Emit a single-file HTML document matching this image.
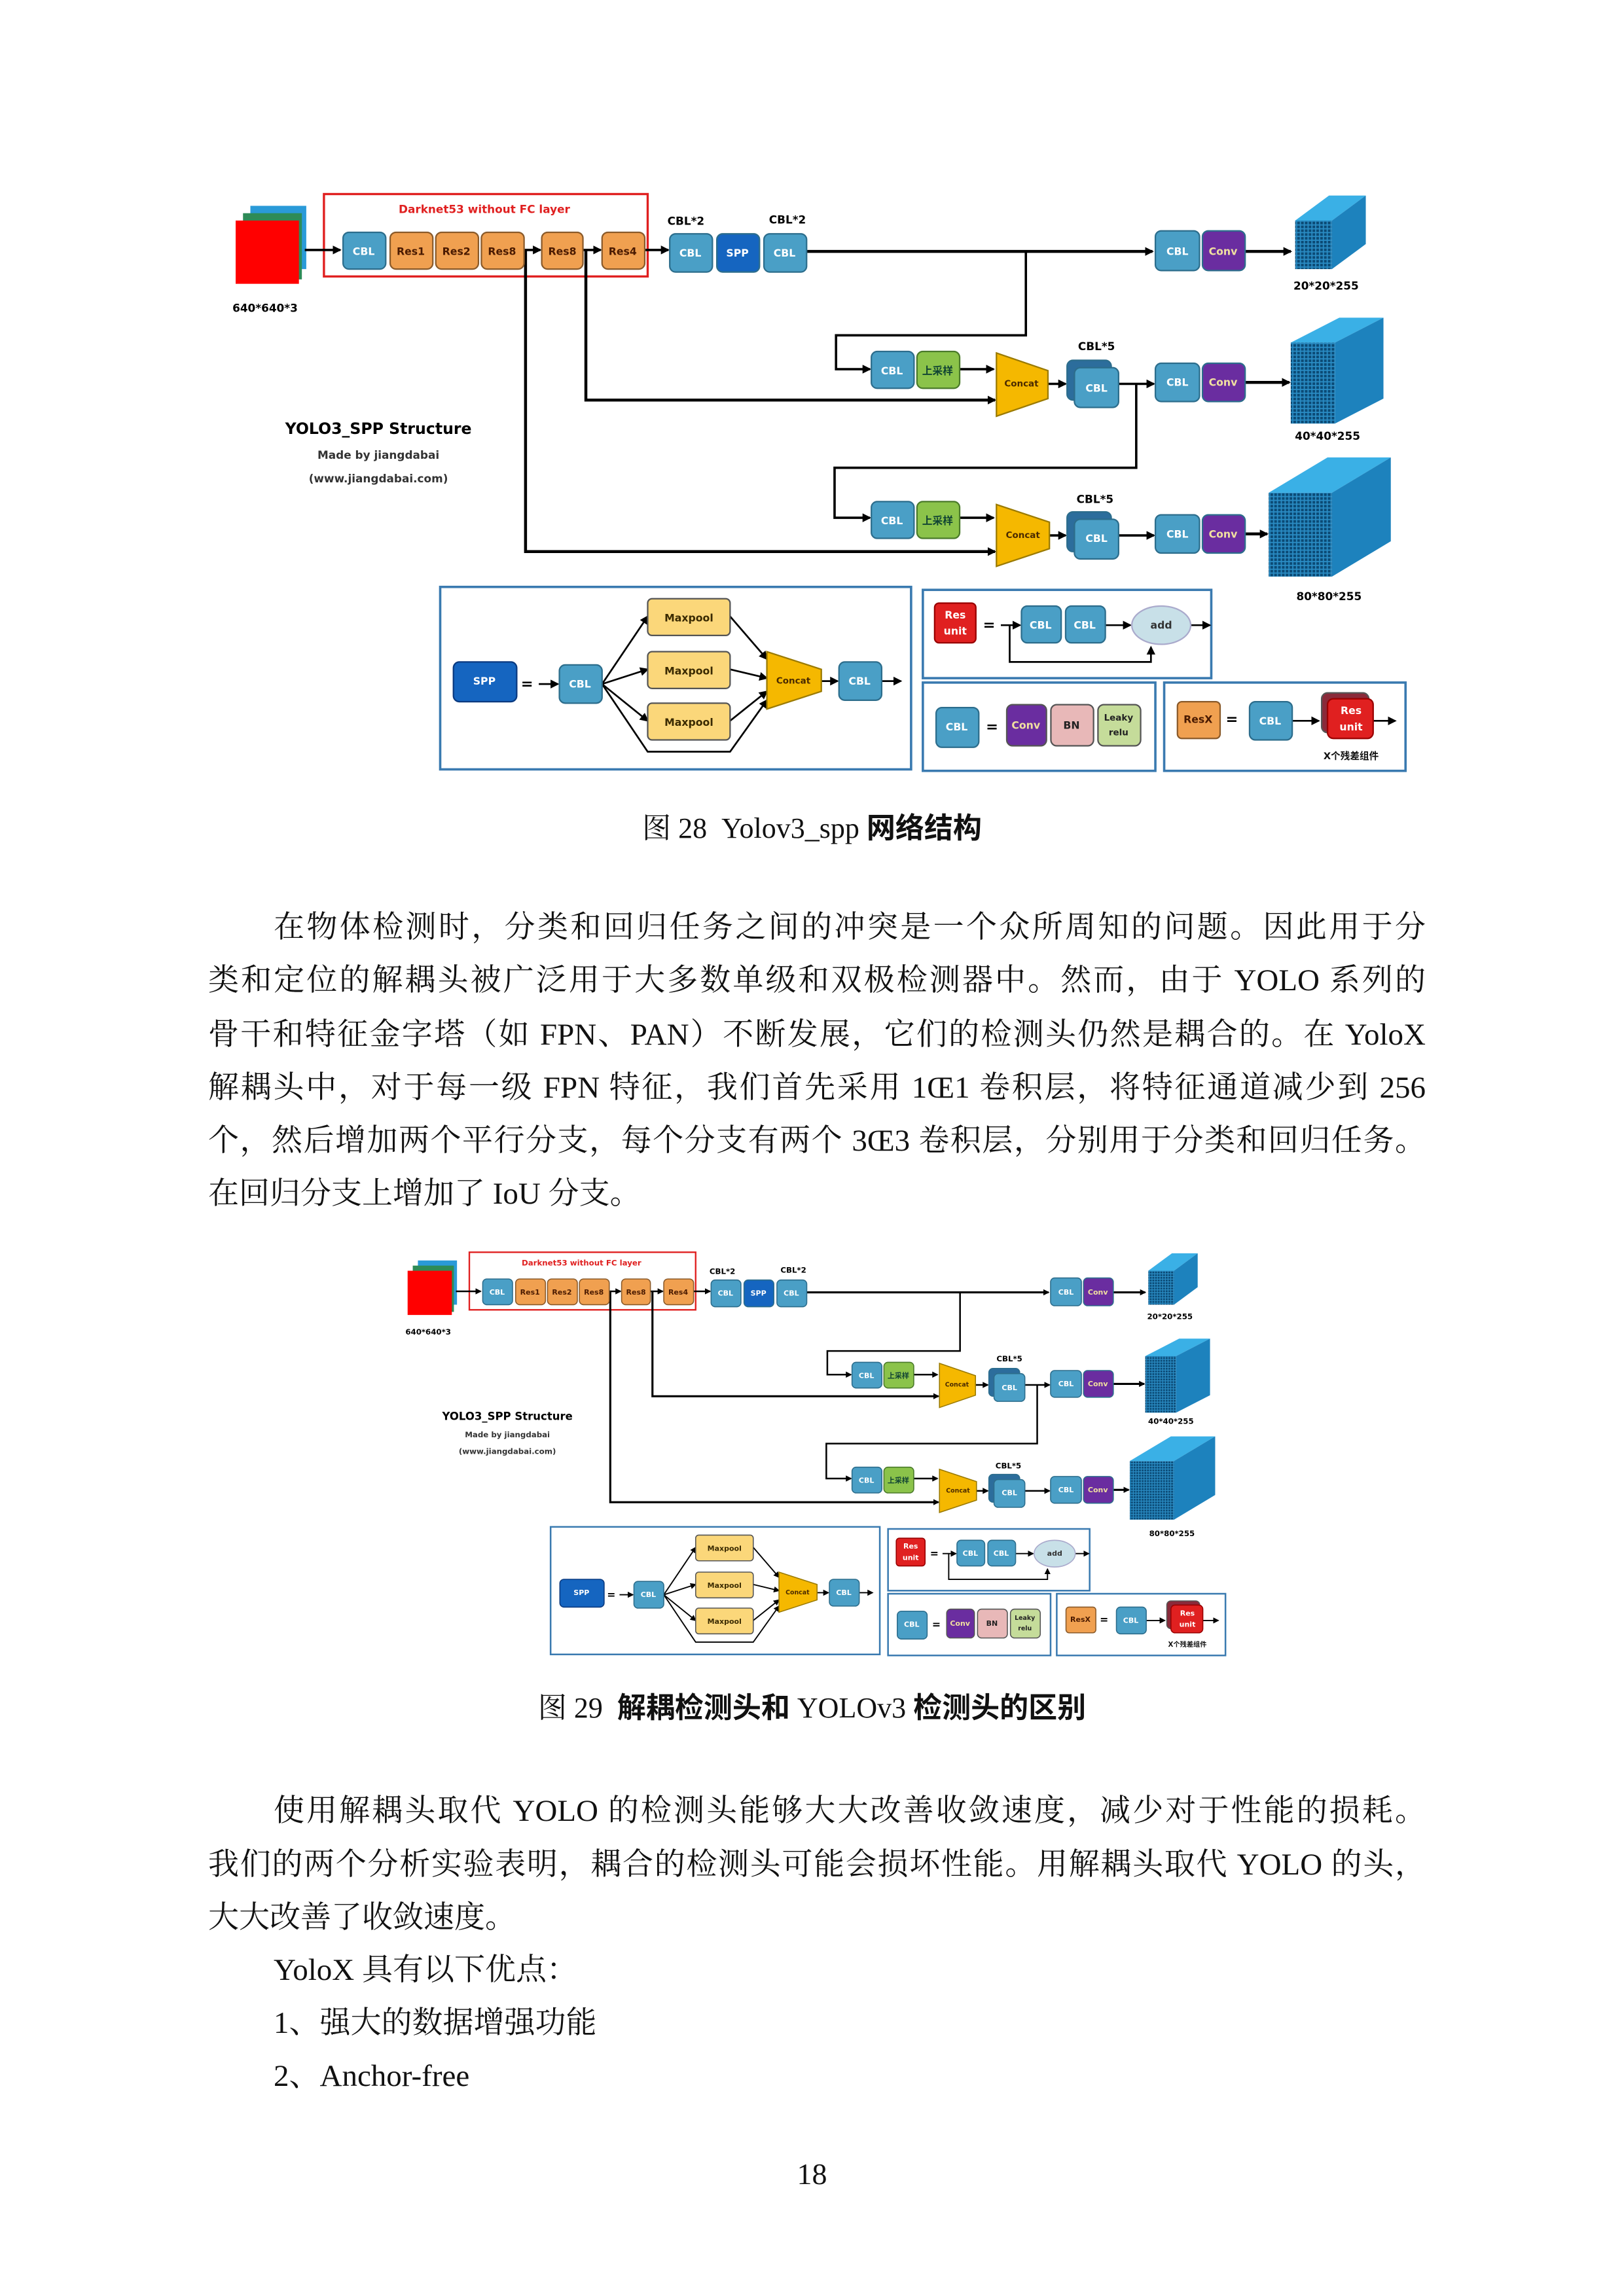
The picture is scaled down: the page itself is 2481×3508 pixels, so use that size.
<!DOCTYPE html>
<html><head><meta charset="utf-8">
<style>
html,body{margin:0;padding:0;background:#fff;}
body{width:2481px;height:3508px;position:relative;overflow:hidden;}
.l{position:absolute;font-family:"Liberation Serif","Noto Serif CJK SC",serif;font-size:47px;line-height:60px;white-space:nowrap;color:#111;}
.j{text-align:justify;text-align-last:justify;width:1860px;left:318px;white-space:normal;}
.ji{text-align:justify;text-align-last:justify;width:1760px;left:418px;white-space:normal;}
.cap{position:absolute;left:0;width:2481px;text-align:center;font-family:"Liberation Serif","Noto Serif CJK SC",serif;font-size:44px;line-height:56px;color:#111;}
.cap b{font-family:"Liberation Sans","Noto Sans CJK SC",sans-serif;}
svg text{font-family:"DejaVu Sans","Liberation Sans","Noto Sans CJK SC",sans-serif;font-weight:bold;}
</style></head><body>

<svg style="position:absolute;left:337px;top:292px" width="1822" height="888" viewBox="150 130 810 395">
<defs>
<marker id="ar" markerWidth="6" markerHeight="6" refX="5" refY="3" orient="auto" markerUnits="userSpaceOnUse"><path d="M0,0 L6,3 L0,6 z" fill="#000"/></marker>
<pattern id="grid" width="2.6" height="2.6" patternUnits="userSpaceOnUse"><rect width="2.6" height="2.6" fill="#2a8cc4"/><rect width="1.8" height="1.8" fill="#0b4a75"/></pattern>
</defs>
<g id="fig">
<rect x="170" y="140" width="38" height="43" fill="#2a9ad8"/>
<rect x="165" y="145" width="40" height="45" fill="#2e8b57"/>
<rect x="160" y="150" width="43" height="43" fill="#ff0000"/>
<text x="180" y="212" font-size="7.5" text-anchor="middle">640*640*3</text>
<rect x="220" y="132" width="220" height="56" fill="none" stroke="#e02020" stroke-width="1.5"/>
<text x="329" y="145" font-size="7.5" fill="#e02020" text-anchor="middle">Darknet53 without FC layer</text>
<g stroke="#000" stroke-width="1.6" fill="none">
<line x1="207" y1="170" x2="231" y2="170" marker-end="url(#ar)"/>
<line x1="356" y1="170" x2="367" y2="170" marker-end="url(#ar)"/>
<line x1="396" y1="170" x2="408" y2="170" marker-end="url(#ar)"/>
<line x1="438" y1="170" x2="454" y2="170" marker-end="url(#ar)"/>
<line x1="548" y1="171" x2="783" y2="171" marker-end="url(#ar)" stroke-width="2"/>
<line x1="846" y1="171" x2="877" y2="171" marker-end="url(#ar)" stroke-width="2"/>
<polyline points="697,171 697,228 568,228 568,251 591,251" marker-end="url(#ar)"/>
<polyline points="398,170 398,272 676,272" marker-end="url(#ar)" stroke-width="2"/>
<polyline points="357,170 357,375 676,375" marker-end="url(#ar)" stroke-width="2"/>
<line x1="652" y1="251" x2="675" y2="251" marker-end="url(#ar)"/>
<line x1="712" y1="261" x2="724" y2="261" marker-end="url(#ar)"/>
<line x1="760" y1="261" x2="784" y2="261" marker-end="url(#ar)"/>
<line x1="846" y1="260" x2="876" y2="260" marker-end="url(#ar)" stroke-width="2"/>
<polyline points="772,261 772,318 567,318 567,352 591,352" marker-end="url(#ar)"/>
<line x1="652" y1="352" x2="675" y2="352" marker-end="url(#ar)"/>
<line x1="713" y1="364" x2="724" y2="364" marker-end="url(#ar)"/>
<line x1="760" y1="364" x2="784" y2="364" marker-end="url(#ar)"/>
<line x1="846" y1="363" x2="861" y2="363" marker-end="url(#ar)" stroke-width="2"/>
</g>
<g stroke="#2c6d8c" stroke-width="1">
<rect x="233" y="158" width="29" height="25" rx="4" fill="#4a9fc6"/>
<rect x="265" y="158" width="29" height="25" rx="4" fill="#f0a050" stroke="#8a5a2a"/>
<rect x="296" y="158" width="29" height="25" rx="4" fill="#f0a050" stroke="#8a5a2a"/>
<rect x="327" y="158" width="29" height="25" rx="4" fill="#f0a050" stroke="#8a5a2a"/>
<rect x="368" y="158" width="28" height="25" rx="4" fill="#f0a050" stroke="#8a5a2a"/>
<rect x="409" y="158" width="29" height="25" rx="4" fill="#f0a050" stroke="#8a5a2a"/>
<rect x="455" y="159" width="29" height="26" rx="4" fill="#4a9fc6"/>
<rect x="487" y="159" width="29" height="26" rx="4" fill="#1565c0"/>
<rect x="519" y="159" width="29" height="26" rx="4" fill="#4a9fc6"/>
<rect x="785" y="157" width="30" height="27" rx="4" fill="#4a9fc6"/>
<rect x="817" y="157" width="29" height="27" rx="4" fill="#6a2da0"/>
<rect x="592" y="239" width="29" height="25" rx="4" fill="#4a9fc6"/>
<rect x="623" y="239" width="29" height="25" rx="4" fill="#8bc34a" stroke="#4a7a2a"/>
<rect x="725" y="245" width="30" height="27" rx="4" fill="#2c6d9c"/>
<rect x="730" y="250" width="30" height="27" rx="4" fill="#4a9fc6"/>
<rect x="785" y="247" width="30" height="26" rx="4" fill="#4a9fc6"/>
<rect x="817" y="247" width="29" height="26" rx="4" fill="#6a2da0"/>
<rect x="592" y="341" width="29" height="25" rx="4" fill="#4a9fc6"/>
<rect x="623" y="341" width="29" height="25" rx="4" fill="#8bc34a" stroke="#4a7a2a"/>
<rect x="725" y="348" width="30" height="27" rx="4" fill="#2c6d9c"/>
<rect x="730" y="353" width="30" height="27" rx="4" fill="#4a9fc6"/>
<rect x="785" y="350" width="30" height="26" rx="4" fill="#4a9fc6"/>
<rect x="817" y="350" width="29" height="26" rx="4" fill="#6a2da0"/>
</g>
<polygon points="677,240 712,252 712,271 677,283" fill="#f5b800" stroke="#9a7a00"/>
<polygon points="677,343 713,355 713,373 677,385" fill="#f5b800" stroke="#9a7a00"/>
<g font-size="7" text-anchor="middle" dominant-baseline="central">
<text x="247" y="171" fill="#fff">CBL</text>
<text x="279" y="171" fill="#4a1a00">Res1</text>
<text x="310" y="171" fill="#4a1a00">Res2</text>
<text x="341" y="171" fill="#4a1a00">Res8</text>
<text x="382" y="171" fill="#4a1a00">Res8</text>
<text x="423" y="171" fill="#4a1a00">Res4</text>
<text x="469" y="172" fill="#fff">CBL</text>
<text x="501" y="172" fill="#fff">SPP</text>
<text x="533" y="172" fill="#fff">CBL</text>
<text x="800" y="171" fill="#fff">CBL</text>
<text x="831" y="171" fill="#f0e0a0">Conv</text>
<text x="606" y="252" fill="#fff">CBL</text>
<text x="637" y="252" fill="#143">上采样</text>
<text x="694" y="261" fill="#4a2a00" font-size="6">Concat</text>
<text x="745" y="264" fill="#fff">CBL</text>
<text x="800" y="260" fill="#fff">CBL</text>
<text x="831" y="260" fill="#f0e0a0">Conv</text>
<text x="606" y="354" fill="#fff">CBL</text>
<text x="637" y="354" fill="#143">上采样</text>
<text x="695" y="364" fill="#4a2a00" font-size="6">Concat</text>
<text x="745" y="366" fill="#fff">CBL</text>
<text x="800" y="363" fill="#fff">CBL</text>
<text x="831" y="363" fill="#f0e0a0">Conv</text>
</g>
<g font-size="7.5" text-anchor="middle">
<text x="466" y="153">CBL*2</text>
<text x="535" y="152">CBL*2</text>
<text x="745" y="238">CBL*5</text>
<text x="744" y="342">CBL*5</text>
<text x="901" y="197">20*20*255</text>
<text x="902" y="299">40*40*255</text>
<text x="903" y="408">80*80*255</text>
<text x="257" y="295" font-size="10.5">YOLO3_SPP Structure</text>
<text x="257" y="312" font-size="7.5" font-weight="normal" fill="#333">Made by jiangdabai</text>
<text x="257" y="328" font-size="7.5" font-weight="normal" fill="#333">(www.jiangdabai.com)</text>
</g>
<polygon points="880,150 905,150 928,133 903,133" fill="#3ab0e6"/>
<polygon points="905,150 928,133 928,166 905,183" fill="#1d82bd"/>
<rect x="880" y="150" width="25" height="33" fill="url(#grid)"/>
<polygon points="877,233 907,233 940,216 910,216" fill="#3ab0e6"/>
<polygon points="907,233 940,216 940,271 907,288" fill="#1d82bd"/>
<rect x="877" y="233" width="30" height="55" fill="url(#grid)"/>
<polygon points="862,335 905,335 945,311 902,311" fill="#3ab0e6"/>
<polygon points="905,335 945,311 945,368 905,392" fill="#1d82bd"/>
<rect x="862" y="335" width="43" height="57" fill="url(#grid)"/>
<g fill="none" stroke="#3a7ab0" stroke-width="1.6">
<rect x="299" y="399" width="320" height="124"/>
<rect x="627" y="401" width="196" height="60"/>
<rect x="627" y="464" width="158" height="60"/>
<rect x="791" y="464" width="164" height="60"/>
</g>
<g stroke="#000" stroke-width="1.2" fill="none">
<line x1="366" y1="465" x2="379" y2="465" marker-end="url(#ar)"/>
<line x1="409" y1="465" x2="440" y2="419" marker-end="url(#ar)"/>
<line x1="409" y1="465" x2="440" y2="455" marker-end="url(#ar)"/>
<line x1="409" y1="465" x2="440" y2="490" marker-end="url(#ar)"/>
<polyline points="409,465 440,511 496,511 521,476" marker-end="url(#ar)"/>
<line x1="496" y1="419" x2="521" y2="448" marker-end="url(#ar)"/>
<line x1="496" y1="455" x2="521" y2="461" marker-end="url(#ar)"/>
<line x1="496" y1="490" x2="521" y2="470" marker-end="url(#ar)"/>
<line x1="558" y1="463" x2="569" y2="463" marker-end="url(#ar)"/>
<line x1="599" y1="463" x2="612" y2="463" marker-end="url(#ar)"/>
<line x1="680" y1="425" x2="693" y2="425" marker-end="url(#ar)"/>
<line x1="751" y1="425" x2="768" y2="425" marker-end="url(#ar)"/>
<line x1="809" y1="425" x2="822" y2="425" marker-end="url(#ar)"/>
<polyline points="686,425 686,450 782,450 782,440" marker-end="url(#ar)"/>
<line x1="878" y1="490" x2="896" y2="490" marker-end="url(#ar)"/>
<line x1="933" y1="490" x2="948" y2="490" marker-end="url(#ar)"/>
</g>
<g stroke="#555" stroke-width="1">
<rect x="308" y="450" width="43" height="27" rx="4" fill="#1565c0" stroke="#0a3a80"/>
<rect x="380" y="452" width="29" height="26" rx="4" fill="#4a9fc6" stroke="#2c6d8c"/>
<rect x="440" y="407" width="56" height="25" rx="3" fill="#fbd77a"/>
<rect x="440" y="443" width="56" height="25" rx="3" fill="#fbd77a"/>
<rect x="440" y="478" width="56" height="25" rx="3" fill="#fbd77a"/>
<polygon points="521,443 558,455 558,470 521,482" fill="#f5b800" stroke="#9a7a00"/>
<rect x="570" y="450" width="29" height="26" rx="4" fill="#4a9fc6" stroke="#2c6d8c"/>
<rect x="635" y="410" width="28" height="27" rx="3" fill="#e02020" stroke="#900"/>
<rect x="694" y="412" width="27" height="25" rx="4" fill="#4a9fc6" stroke="#2c6d8c"/>
<rect x="724" y="412" width="27" height="25" rx="4" fill="#4a9fc6" stroke="#2c6d8c"/>
<ellipse cx="789" cy="425" rx="20" ry="13" fill="#c8e0e8" stroke="#aac"/>
<rect x="636" y="481" width="29" height="27" rx="4" fill="#4a9fc6" stroke="#2c6d8c"/>
<rect x="684" y="479" width="27" height="28" rx="4" fill="#6a2da0"/>
<rect x="714" y="479" width="29" height="28" rx="4" fill="#e8b8b8"/>
<rect x="746" y="479" width="29" height="28" rx="4" fill="#c5dc9a"/>
<rect x="800" y="477" width="29" height="25" rx="3" fill="#f0a050" stroke="#8a5a2a"/>
<rect x="849" y="477" width="29" height="26" rx="4" fill="#4a9fc6" stroke="#2c6d8c"/>
<rect x="898" y="471" width="32" height="27" rx="4" fill="#8a2a3a"/>
<rect x="902" y="475" width="31" height="27" rx="4" fill="#e02020" stroke="#900"/>
</g>
<g font-size="7" text-anchor="middle" dominant-baseline="central">
<text x="329" y="463" fill="#fff">SPP</text>
<text x="358" y="465" font-size="10">=</text>
<text x="394" y="465" fill="#fff">CBL</text>
<text x="468" y="420" fill="#3a2a00">Maxpool</text>
<text x="468" y="456" fill="#3a2a00">Maxpool</text>
<text x="468" y="491" fill="#3a2a00">Maxpool</text>
<text x="539" y="463" fill="#4a2a00" font-size="6">Concat</text>
<text x="584" y="463" fill="#fff">CBL</text>
<text x="649" y="418" fill="#fff">Res</text>
<text x="649" y="429" fill="#fff">unit</text>
<text x="672" y="425" font-size="10">=</text>
<text x="707" y="425" fill="#fff">CBL</text>
<text x="737" y="425" fill="#fff">CBL</text>
<text x="789" y="425" fill="#333" font-weight="normal">add</text>
<text x="650" y="494" fill="#fff">CBL</text>
<text x="674" y="494" font-size="10">=</text>
<text x="697" y="493" fill="#f0e0a0">Conv</text>
<text x="728" y="493" fill="#222">BN</text>
<text x="760" y="488" fill="#222" font-size="6">Leaky</text>
<text x="760" y="498" fill="#222" font-size="6">relu</text>
<text x="814" y="489" fill="#4a1a00">ResX</text>
<text x="837" y="489" font-size="10">=</text>
<text x="863" y="490" fill="#fff">CBL</text>
<text x="918" y="483" fill="#fff">Res</text>
<text x="918" y="494" fill="#fff">unit</text>
<text x="918" y="514" fill="#111" font-size="6.5">X个残差组件</text>
</g>
</g>
</svg>

<div class="cap" style="top:1238px">图 28&nbsp;&nbsp;Yolov3_spp <b>网络结构</b></div>

<div class="l ji" style="top:1387px">在物体检测时，分类和回归任务之间的冲突是一个众所周知的问题。因此用于分</div>
<div class="l j" style="top:1468px">类和定位的解耦头被广泛用于大多数单级和双极检测器中。然而，由于 YOLO 系列的</div>
<div class="l j" style="top:1551px">骨干和特征金字塔（如 FPN、PAN）不断发展，它们的检测头仍然是耦合的。在 YoloX</div>
<div class="l j" style="top:1632px">解耦头中，对于每一级 FPN 特征，我们首先采用 1Œ1 卷积层，将特征通道减少到 256</div>
<div class="l j" style="top:1713px">个，然后增加两个平行分支，每个分支有两个 3Œ3 卷积层，分别用于分类和回归任务。</div>
<div class="l" style="top:1794px;left:318px">在回归分支上增加了 IoU 分支。</div>

<svg style="position:absolute;left:607px;top:1910px" width="1273" height="621" viewBox="150 130 810 395">
<use href="#fig"/>
</svg>

<div class="cap" style="top:2582px">图 29&nbsp;&nbsp;<b>解耦检测头和</b> YOLOv3 <b>检测头的区别</b></div>

<div class="l ji" style="top:2737px">使用解耦头取代 YOLO 的检测头能够大大改善收敛速度，减少对于性能的损耗。</div>
<div class="l j" style="top:2819px">我们的两个分析实验表明，耦合的检测头可能会损坏性能。用解耦头取代 YOLO 的头，</div>
<div class="l" style="top:2900px;left:318px">大大改善了收敛速度。</div>
<div class="l" style="top:2980px;left:418px">YoloX 具有以下优点：</div>
<div class="l" style="top:3061px;left:418px">1、强大的数据增强功能</div>
<div class="l" style="top:3142px;left:418px">2、Anchor-free</div>

<div class="l" style="top:3292px;left:0;width:2481px;text-align:center;font-size:46px">18</div>
</body></html>
